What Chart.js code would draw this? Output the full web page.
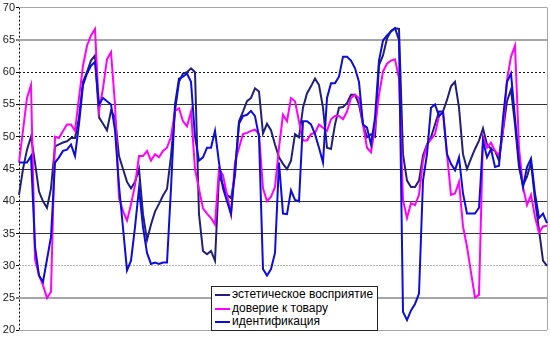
<!DOCTYPE html>
<html>
<head>
<meta charset="utf-8">
<script src="https://cdn.jsdelivr.net/npm/chart.js@4.4.1/dist/chart.umd.min.js"></script>
<style>
  body { margin: 0; background: #fff; }
  #wrap { position: relative; width: 550px; height: 338px; }
  #legend {
    position: absolute; left: 211px; top: 286px; width: 165px; height: 43px;
    border: 1px solid #222; background: #fff;
    font: 12px Arial, "Liberation Sans", sans-serif; color: #000;
  }
  .row { position: absolute; left: 3px; height: 13px; line-height: 13px; white-space: nowrap; }
  .swatch { display: inline-block; width: 15px; height: 2px; vertical-align: middle; margin-right: 2px; }
</style>
</head>
<body>
<div id="wrap">
  <canvas id="chart" width="550" height="338"></canvas>
  <div id="legend">
    <div class="row" style="top:1px"><span class="swatch" style="background:#20207a"></span>эстетическое восприятие</div>
    <div class="row" style="top:15px"><span class="swatch" style="background:#ff00ff"></span>доверие к товару</div>
    <div class="row" style="top:28px"><span class="swatch" style="background:#0c0cdc"></span>идентификация</div>
  </div>
</div>
<script>
// Series values (one point every ~4px)
const aesthetic = [
  41, 45, 48, 50, 46, 41.5, 40, 39, 42, 48.5,
  48.8, 49.1, 49.3, 49.8, 49.8, 53, 58.5, 60, 61.8, 62.6,
  53, 52, 51, 54, 53, 47, 45, 43, 42, 43,
  45, 38, 34, 36.4, 38.4, 39.6, 40.9, 41.9, 47, 54,
  58.5, 59.8, 60, 60.6, 60, 38, 32.3, 31.8, 32.3, 30.8,
  44, 42.5, 41, 40.5, 44, 52.4, 53.9, 55.5, 56, 57.5,
  57, 50.5, 52, 51, 48.8, 46.8, 45.8, 45, 46.3, 50.4,
  49.9, 54.5, 56.7, 57.8, 59, 58, 54.5, 48.3, 48.1, 51.9,
  54.5, 54.6, 55.2, 56.5, 56.5, 55, 51.9, 49.9, 50.4, 50,
  61.1, 62.6, 65.2, 66.4, 66.8, 66.7, 47.3, 43.2, 42.2, 42.2,
  43.2, 47.1, 48.8, 49.9, 51.9, 53.9, 53.9, 55.7, 57.8, 58.5,
  54.5, 47.3, 45, 46.6, 48.1, 49.4, 51.3, 48.8, 48.1, 47.8,
  46.3, 50.9, 55.5, 57.3, 51.9, 45.3, 42.5, 43.8, 46, 40.2,
  35.6, 30.8, 30
];
const trust = [
  46, 51, 56, 58, 31, 28.5, 27, 25, 26, 50,
  49.8, 50.9, 51.9, 51.9, 50.9, 56, 61, 64.1, 65.7, 66.7,
  54, 57.5, 62, 63.1, 55, 40.5, 38.5, 37, 39.5, 42.5,
  47, 47, 47.8, 46.3, 47.3, 46.8, 47.8, 48.3, 50, 54,
  54.4, 52.4, 51.6, 53.9, 45, 41.9, 38.9, 38.1, 37.4, 36.4,
  45, 44, 41, 38, 46, 48.3, 50.4, 50.6, 50.9, 51.1,
  50.4, 42, 40, 40.7, 42.2, 48.3, 53.4, 52.4, 56, 55.5,
  52.4, 49.4, 49.4, 50.4, 50.6, 51.9, 51.4, 50.9, 52.7, 53.2,
  53.2, 52.7, 53.9, 56, 56.5, 56, 51.9, 48.3, 47.6, 51.4,
  56.5, 60.1, 61.3, 61.8, 62, 59, 40.2, 37.4, 39.7, 39.4,
  41, 46.3, 48.8, 49.6, 50.4, 53.2, 53.9, 47.3, 41, 41.2,
  43, 36.1, 33, 29, 25.1, 25.5, 50, 48.3, 49.1, 47.8,
  47.1, 50.9, 58.8, 62.4, 64.1, 48.3, 42.2, 39.4, 41, 37.6,
  35.1, 36.1, 36.2
];
const identity = [
  46, 46, 46, 47, 33, 28.5, 27.5, 31, 34.5, 46,
  46.8, 47.8, 48, 48.8, 47, 52, 58, 59.8, 61, 61.6,
  55, 56, 55.5, 55, 51, 42.4, 35.9, 29.3, 30.8, 36,
  42, 36, 32, 30.3, 30.5, 30.3, 30.5, 30.5, 42, 55,
  59, 59.3, 59.8, 58.5, 50, 46.3, 46.8, 48.3, 48.3, 50.9,
  46, 42, 40, 38, 45, 52, 53.2, 53.4, 54, 53.2,
  50, 29.5, 28.5, 29.5, 32, 46, 38.1, 38, 41.7, 40.2,
  40, 52.4, 52.4, 51.9, 50.4, 48.3, 46, 56, 58.3, 58.3,
  59.3, 62.4, 62.4, 61.8, 60.6, 58.5, 51.9, 51.4, 48.8, 52.9,
  61.8, 64.9, 65.7, 66.3, 66.8, 65, 22.9, 21.6, 23.1, 24.1,
  25.7, 43.2, 47.3, 54.5, 55, 53.2, 53.9, 47.3, 45.8, 44.8,
  46.8, 41.2, 38.1, 38.1, 38.1, 39, 49.4, 46.8, 48.1, 45.3,
  45.5, 52.9, 58.5, 59.8, 52.9, 46, 42.2, 45.3, 46.6, 41.2,
  37.4, 38.1, 36.6
];
const seriesNames = ['эстетическое восприятие', 'доверие к товару', 'идентификация'];
const labels = aesthetic.map((_, i) => String(i));

// look of each horizontal gridline: [color, width, dash]
const gridStyle = {
  70: ['#a6a6a6', 1, []],
  65: ['#a6a6a6', 2, []],
  60: ['#111111', 1, [2, 2]],
  55: ['#333340', 1, []],
  50: ['#111111', 1, [2, 2]],
  45: ['#333340', 1, []],
  40: ['#333340', 1, []],
  35: ['#333340', 1, []],
  30: ['#b4b4b4', 1, [2, 1]],
  25: ['#a6a6a6', 2, []],
  20: ['#a6a6a6', 1, []]
};
const last = labels.length - 1;

Chart.defaults.font.family = 'Arial, "Liberation Sans", sans-serif';

new Chart(document.getElementById('chart'), {
  type: 'line',
  data: {
    labels: labels,
    datasets: [
      { label: seriesNames[0], data: aesthetic, borderColor: '#20207a', borderWidth: 2, order: 2 },
      { label: seriesNames[1], data: trust, borderColor: '#ff00ff', borderWidth: 2, order: 1 },
      { label: seriesNames[2], data: identity, borderColor: '#0c0cdc', borderWidth: 2, order: 0 }
    ]
  },
  options: {
    responsive: false,
    animation: false,
    devicePixelRatio: 1,
    layout: { padding: { top: 5, right: 3, bottom: 6, left: 0 } },
    elements: { point: { radius: 0 }, line: { tension: 0, fill: false } },
    plugins: { legend: { display: false }, tooltip: { enabled: false } },
    scales: {
      x: {
        type: 'category',
        offset: false,
        ticks: { display: false, autoSkip: false },
        grid: {
          offset: false,
          drawTicks: false,
          color: c => c.index === 0 ? '#000000' : (c.index === last ? '#a6a6a6' : 'rgba(0,0,0,0)'),
          lineWidth: 1
        },
        border: { display: false, dash: c => (c.index === 0 ? [2, 2] : []) },
        afterFit: s => { s.height = 0; }
      },
      y: {
        min: 20,
        max: 70,
        ticks: { stepSize: 5, color: '#222222', font: { size: 11 }, padding: 1 },
        grid: {
          color: c => c.tick ? gridStyle[c.tick.value][0] : '#000',
          lineWidth: c => c.tick ? gridStyle[c.tick.value][1] : 1,
          tickColor: '#000000',
          tickLength: 3,
          tickWidth: 1,
          tickBorderDash: []
        },
        border: { display: false, dash: c => c.tick ? gridStyle[c.tick.value][2] : [] },
        afterFit: s => { s.width = 19; }
      }
    }
  }
});
</script>
</body>
</html>
